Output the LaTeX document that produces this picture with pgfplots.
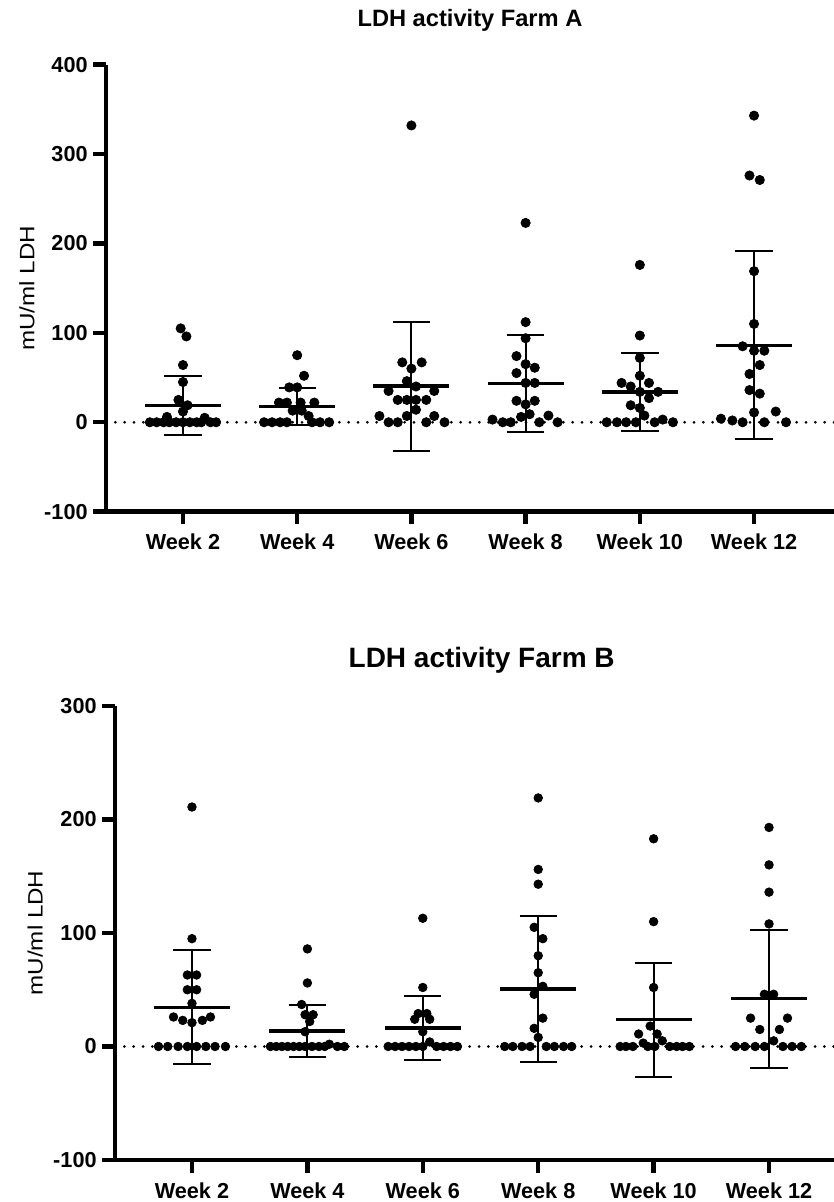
\documentclass[border=0pt]{standalone}
\usepackage{fontspec}
\setmainfont{Liberation Sans}
\usepackage{pgfplots}
\pgfplotsset{compat=1.18}

\pgfplotsset{
  farm/.style={
    scale only axis,
    anchor=south west,
    axis lines*=left,
    axis line style={line width=2.6pt, -},
    tick align=outside,
    major tick length=7.5pt,
    tick style={line width=2.6pt, black},
    xtick={1,...,6},
    xticklabels={Week 2,Week 4,Week 6,Week 8,Week 10,Week 12},
    xticklabel style={yshift=-2.5pt},
    ytick distance=100,
    ymin=-100,
    tick label style={font=\bfseries\fontsize{13}{15}\selectfont},
    /pgf/number format/assume math mode=true,
    ylabel={mU/ml LDH},
    clip=false,
  },
  dots/.style={only marks, mark=*, black, mark size=#1},
  meansd/.style={only marks, mark=-, black, mark size=22.8pt,
    mark options={line width=2pt},
    error bars/.cd, y dir=both, y explicit,
    error bar style={line width=1.2pt, black},
    error mark options={rotate=90, line width=1.2pt, mark size=11.2pt, black}},
  zeroline/.style={black, line width=1.8pt, line cap=round, dash pattern=on 0pt off 5.6pt},
}

\begin{document}
\begin{tikzpicture}
\path[use as bounding box] (0,0) rectangle (500.4pt,721.2pt);

% Farm A
\begin{axis}[farm,
  at={(63.6pt,414.2pt)}, width=436.8pt, height=268.2pt,
  xmin=0.326, xmax=6.70, ymax=400,
  title={LDH activity Farm A},
  title style={at={(axis description cs:0.5,1)}, anchor=base, yshift=16.6pt,
    font=\bfseries\fontsize{14.2}{16}\selectfont},
  ylabel style={at={(axis description cs:-0.1085,0.5)}, anchor=center, xscale=1.16,
    font=\fontsize{12.5}{14}\selectfont},
]
\addplot[zeroline] coordinates {(0.326,0) (6.70,0)};
\addplot[meansd] coordinates {
  (1,19.1) +- (0,33.2)
  (2,17.6) +- (0,20.2)
  (3,40.4) +- (0,72.2)
  (4,43.4) +- (0,54.4)
  (5,33.7) +- (0,43.4)
  (6,86.1) +- (0,105)
};
% Week 2
\addplot[dots=2.8pt] coordinates {
  (0.98,105) (1.03,96) (1,64) (1,45) (0.96,25) (1.04,19) (1,12) (0.86,6) (1.19,5)
  (0.71,0) (0.77,0) (0.83,0) (0.88,0) (0.94,0) (1,0) (1.06,0) (1.12,0) (1.16,0) (1.24,0) (1.29,0)
};
% Week 4
\addplot[dots=2.8pt] coordinates {
  (2,75) (2.06,52) (1.93,39) (2,39) (1.84,22) (1.91,22) (2.03,22) (2.15,22) (1.96,13) (2.04,13) (2.1,7)
  (1.71,0) (1.78,0) (1.85,0) (1.91,0) (2.13,0) (2.2,0) (2.28,0)
};
% Week 6
\addplot[dots=2.8pt] coordinates {
  (3,332) (2.92,67) (3.09,67) (3,60) (2.96,46) (3.04,40) (2.8,35) (3.2,35)
  (2.88,25) (2.96,25) (3.04,25) (3.13,25) (3.04,14) (2.72,7) (2.96,7) (3.2,7)
  (2.8,0) (2.88,0) (3.13,0) (3.29,0)
};
% Week 8
\addplot[dots=2.8pt] coordinates {
  (4,223) (4,112) (4,94) (3.92,74) (4,65) (4.08,61) (3.92,55) (4,44) (4.08,44)
  (3.92,24) (4.08,24) (4,20) (4.035,9) (3.96,6) (4.2,7.5) (3.71,3)
  (3.8,0) (3.87,0) (4.12,0) (4.28,0)
};
% Week 10
\addplot[dots=2.8pt] coordinates {
  (5,176) (5,97) (5,72) (5,52) (4.84,44) (5.08,44) (4.92,40) (5,34) (5.16,34)
  (5.08,27) (4.92,19) (5,16) (5.04,7.5) (5.2,3)
  (4.71,0) (4.8,0) (4.88,0) (4.965,0) (5.13,0) (5.29,0)
};
% Week 12
\addplot[dots=2.8pt] coordinates {
  (6,343) (5.96,276) (6.05,271) (6,169) (6,110) (5.9,85) (6,80) (6.09,80)
  (6.05,64) (5.96,54) (5.96,36) (6.05,32) (6,11) (6.19,12) (5.71,4) (5.81,2)
  (5.9,0) (6.09,0) (6.28,0)
};
\end{axis}

% Farm B
\begin{axis}[farm,
  at={(69pt,25.2pt)}, width=431.4pt, height=272.4pt,
  xmin=0.333, xmax=6.563, ymax=300,
  title={LDH activity Farm B},
  title style={at={(axis description cs:0.51,1)}, anchor=base, yshift=17.1pt,
    font=\bfseries\fontsize{16.8}{19}\selectfont},
  ylabel style={at={(axis description cs:-0.111,0.5)}, anchor=center, xscale=1.16,
    font=\fontsize{12.5}{14}\selectfont},
]
\addplot[zeroline] coordinates {(0.333,0) (6.563,0)};
\addplot[meansd] coordinates {
  (1,34.6) +- (0,50)
  (2,13.7) +- (0,23.2)
  (3,16.3) +- (0,28)
  (4,50.7) +- (0,64.3)
  (5,23.5) +- (0,50)
  (6,42) +- (0,61)
};
% Week 2
\addplot[dots=2.6pt] coordinates {
  (1,211) (1,95) (0.96,63) (1.04,63) (0.96,50) (1.04,50) (1,38) (0.84,26) (1.16,26)
  (0.92,23) (1.09,23) (1,21)
  (0.71,0) (0.79,0) (0.88,0) (0.96,0) (1.04,0) (1.12,0) (1.2,0) (1.29,0)
};
% Week 4
\addplot[dots=2.6pt] coordinates {
  (2,86) (2,56) (1.95,37) (1.98,28) (2.05,28) (2.02,22) (1.98,13) (2.19,2)
  (1.68,0) (1.73,0) (1.78,0) (1.83,0) (1.88,0) (1.93,0) (1.98,0) (2.04,0) (2.1,0) (2.15,0) (2.26,0) (2.32,0)
};
% Week 6
\addplot[dots=2.6pt] coordinates {
  (3,113) (3,52) (2.96,29) (3.035,29) (2.93,24) (3.06,24) (3,13) (3.06,4)
  (2.7,0) (2.76,0) (2.82,0) (2.88,0) (2.94,0) (3,0) (3.12,0) (3.18,0) (3.24,0) (3.3,0)
};
% Week 8
\addplot[dots=2.6pt] coordinates {
  (4,219) (4,156) (4,143) (3.965,105) (4.04,95) (4,80) (4,65) (4.04,53) (3.965,46)
  (4.04,25) (3.965,16) (4,8)
  (3.71,0) (3.78,0) (3.86,0) (3.93,0) (4.07,0) (4.14,0) (4.22,0) (4.29,0)
};
% Week 10
\addplot[dots=2.6pt] coordinates {
  (5,183) (5,110) (5,52) (4.97,18) (4.87,11) (5.03,11) (5.075,5) (4.91,3)
  (4.71,0) (4.76,0) (4.82,0) (4.95,0) (5.01,0) (5.14,0) (5.2,0) (5.25,0) (5.31,0)
};
% Week 12
\addplot[dots=2.6pt] coordinates {
  (6,193) (6,160) (6,136) (6,108) (5.96,46) (6.04,46) (5.84,25) (6.16,25)
  (5.92,15) (6.09,15) (6.04,5)
  (5.71,0) (5.79,0) (5.88,0) (5.96,0) (6.12,0) (6.2,0) (6.28,0)
};
\end{axis}
\end{tikzpicture}
\end{document}
